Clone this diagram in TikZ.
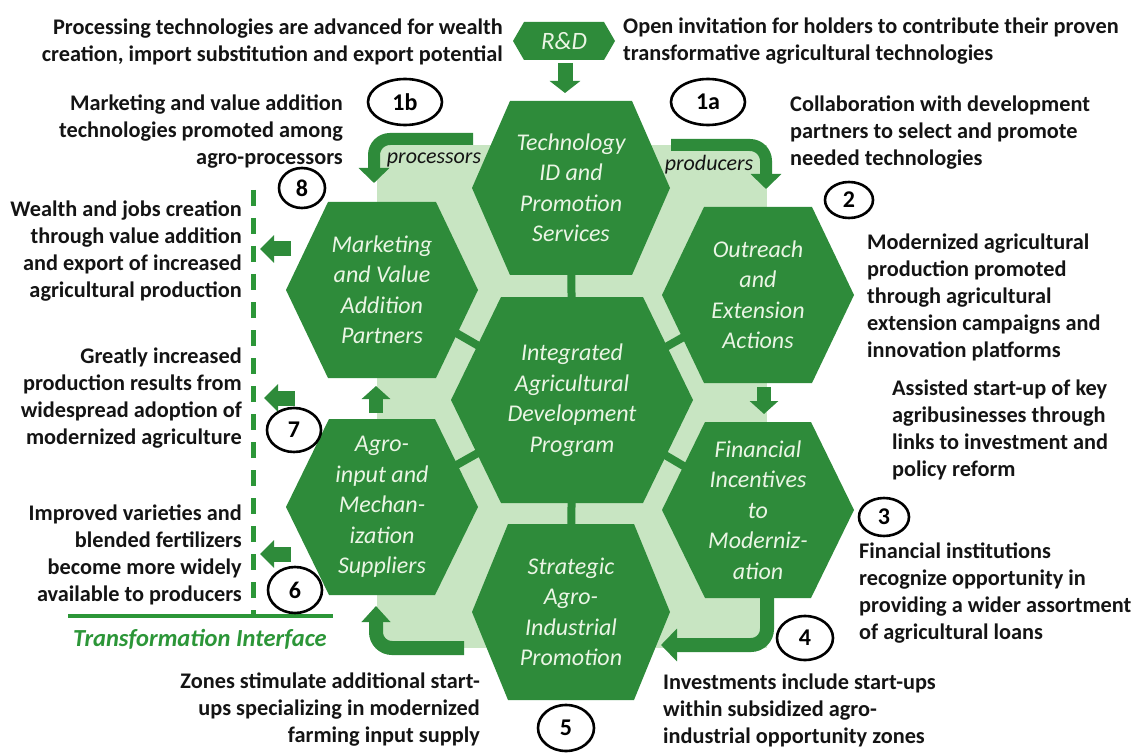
\documentclass[tikz,border=0pt]{standalone}
\usepackage{fontspec}
\setmainfont{Carlito}
\usetikzlibrary{arrows.meta,shapes.geometric}
\definecolor{hexgreen}{RGB}{46,139,58}
\definecolor{palegreen}{RGB}{200,229,194}
\definecolor{hextext}{RGB}{234,245,228}
\definecolor{ifgreen}{RGB}{44,150,56}
\definecolor{ink}{RGB}{20,20,20}
\newcommand\hexshape[6]{%
  \fill[hexgreen] (#2-#4,#3) -- (#2-#5,#3-#6) -- (#2+#5,#3-#6) -- (#2+#4,#3) -- (#2+#5,#3+#6) -- (#2-#5,#3+#6) -- cycle;
  \coordinate (#1) at (#2,#3);}
\tikzset{
  hextxt/.style={align=center, text=hextext, inner sep=0pt, font=\fontsize{24}{30.5}\selectfont\itshape},
  bodytxt/.style={inner sep=0pt, text=ink, font=\fontsize{22.3}{27}\selectfont\bfseries},
  lbltxt/.style={inner sep=0pt, text=ink, font=\fontsize{22}{27}\selectfont\itshape},
  numcirc/.style={ellipse, draw=black, line width=2.6pt, inner sep=0pt, font=\fontsize{24}{28}\selectfont\bfseries},
  spoke/.style={hexgreen, line width=8pt},
  blockarrow/.style={hexgreen, line width=14pt, -{Triangle[width=28pt,length=13pt]}},
  curvearrow/.style={hexgreen, line width=14pt, rounded corners=16pt, -{Triangle[width=32pt,length=15pt]}},
  leftarrow/.style={hexgreen, line width=15pt, -{Triangle[width=27pt,length=14pt]}},
}
\begin{document}
\begin{tikzpicture}[x=1pt,y=-1pt]
\useasboundingbox (0,0) rectangle (1133,754);
\fill[white] (0,0) rectangle (1133,754);
% pale band behind the hexagons
\fill[palegreen] (377,145) rectangle (767,648);
% hexagons
\hexshape{rd}{564}{41}{51}{40}{19}
\hexshape{tech}{571}{188}{99}{61}{87}
\hexshape{mark}{382}{290}{96}{54}{88}
\hexshape{outr}{758}{295}{96}{54}{88}
\hexshape{integ}{572}{400}{121}{71}{103}
\hexshape{agro}{382}{507}{96}{53}{88}
\hexshape{strat}{571}{612}{99}{63}{88}
\hexshape{fin}{758}{510}{96}{53}{88}
% spokes
\draw[spoke] (integ) -- (tech);
\draw[spoke] (integ) -- (mark);
\draw[spoke] (integ) -- (outr);
\draw[spoke] (integ) -- (agro);
\draw[spoke] (integ) -- (strat);
\draw[spoke] (integ) -- (fin);
% hexagon texts
\node[hextxt, font=\fontsize{25}{30}\selectfont\itshape] (rdt) at (rd) {R\&D};
\node[hextxt] (techt) at (tech) {Technology\\ID and\\Promotion\\Services};
\node[hextxt] (markt) at (mark) {Marketing\\and Value\\Addition\\Partners};
\node[hextxt] (outrt) at (outr) {Outreach\\and\\Extension\\Actions};
\node[hextxt] (integt) at (integ) {Integrated\\Agricultural\\Development\\Program};
\node[hextxt] (agrot) at (agro) {Agro-\\input and\\Mechan-\\ization\\Suppliers};
\node[hextxt] (stratt) at (strat) {Strategic\\Agro-\\Industrial\\Promotion};
\node[hextxt] (fint) at (fin) {Financial\\Incentives\\to\\Moderniz-\\ation};
% arrow end points
\coordinate (rdA) at (565,63);
\coordinate (rdB) at (565,93);
\coordinate (upA) at (376,413);
\coordinate (upB) at (376,386);
\coordinate (dnA) at (764,387);
\coordinate (dnB) at (764,414);
\coordinate (pA) at (473,139);
\coordinate (pB) at (374,139);
\coordinate (pC) at (374,183);
\coordinate (qA) at (671,145);
\coordinate (qB) at (766,145);
\coordinate (qC) at (766,189);
\coordinate (fA) at (767,597);
\coordinate (fB) at (767,645);
\coordinate (fC) at (661,645);
\coordinate (sA) at (464,648);
\coordinate (sB) at (376,648);
\coordinate (sC) at (376,606);
\coordinate (l8A) at (291,249);
\coordinate (l8B) at (260,249);
\coordinate (l7A) at (295,398);
\coordinate (l7B) at (264,398);
\coordinate (l6A) at (291,554);
\coordinate (l6B) at (260,554);
% block arrows
\draw[blockarrow, line width=15pt, -{Triangle[width=30pt,length=12pt]}] (rdA) -- (rdB);
\draw[blockarrow] (upA) -- (upB);
\draw[blockarrow] (dnA) -- (dnB);
\draw[curvearrow, line width=12pt, -{Triangle[width=30pt,length=15pt]}] (pA) -- (pB) -- (pC);
\draw[curvearrow, line width=12pt, -{Triangle[width=30pt,length=15pt]}] (qA) -- (qB) -- (qC);
\draw[curvearrow, -{Triangle[width=32pt,length=16pt]}] (fA) -- (fB) -- (fC);
\draw[curvearrow, -{Triangle[width=28pt,length=16pt]}] (sA) -- (sB) -- (sC);
\draw[leftarrow] (l8A) -- (l8B);
\draw[leftarrow] (l7A) -- (l7B);
\draw[leftarrow] (l6A) -- (l6B);
% arrow labels
\node[lbltxt] (proclbl) at (434,160) {processors};
\node[lbltxt] (prodlbl) at (709,165) {producers};
% transformation interface
\coordinate (dTop) at (253,190);
\coordinate (dBot) at (253,614);
\draw[ifgreen, line width=5pt, dash pattern=on 16pt off 12pt] (dTop) -- (dBot);
\coordinate (iL) at (68,616);
\coordinate (iR) at (333,616);
\draw[ifgreen, line width=4pt] (iL) -- (iR);
\node[inner sep=0pt, text=ifgreen, font=\fontsize{24.5}{28}\selectfont\bfseries\itshape] (tif) at (200,639) {Transformation Interface};
% numbered ellipses
\node[numcirc, minimum width=74pt, minimum height=46pt] (n1b) at (405,102) {1b};
\node[numcirc, minimum width=74pt, minimum height=46pt] (n1a) at (708,102) {1a};
\node[numcirc, minimum width=46pt, minimum height=40pt] (n8) at (302,188) {8};
\node[numcirc, minimum width=48pt, minimum height=36pt] (n2) at (849,200) {2};
\node[numcirc, minimum width=54pt, minimum height=44pt] (n7) at (294,430) {7};
\node[numcirc, minimum width=54pt, minimum height=46pt] (n6) at (295,590) {6};
\node[numcirc, minimum width=50pt, minimum height=38pt] (n3) at (884,517) {3};
\node[numcirc, minimum width=56pt, minimum height=44pt] (n4) at (805,638) {4};
\node[numcirc, minimum width=56pt, minimum height=46pt] (n5) at (566,728) {5};
% description texts
\node[bodytxt, anchor=east, align=right] (t1) at (503,41.5) {Processing technologies are advanced for wealth\\creation, import substitution and export potential};
\node[bodytxt, anchor=west, align=left] (t2) at (623,41.5) {Open invitation for holders to contribute their proven\\transformative agricultural technologies};
\node[bodytxt, anchor=east, align=right] (t3) at (343,132) {Marketing and value addition\\technologies promoted among\\agro-processors};
\node[bodytxt, anchor=west, align=left] (t4) at (790,133) {Collaboration with development\\partners to select and promote\\needed technologies};
\node[bodytxt, anchor=east, align=right] (t5) at (242,251) {Wealth and jobs creation\\through value addition\\and export of increased\\agricultural production};
\node[bodytxt, anchor=east, align=right] (t6) at (242,398) {Greatly increased\\production results from\\widespread adoption of\\modernized agriculture};
\node[bodytxt, anchor=east, align=right] (t7) at (242,555) {Improved varieties and\\blended fertilizers\\become more widely\\available to producers};
\node[bodytxt, anchor=west, align=left] (t8) at (867,297) {Modernized agricultural\\production promoted\\through agricultural\\extension campaigns and\\innovation platforms};
\node[bodytxt, anchor=west, align=left] (t9) at (892,430) {Assisted start-up of key\\agribusinesses through\\links to investment and\\policy reform};
\node[bodytxt, anchor=west, align=left] (t10) at (859,593) {Financial institutions\\recognize opportunity in\\providing a wider assortment\\of agricultural loans};
\node[bodytxt, anchor=west, align=left] (t11) at (663,710) {Investments include start-ups\\within subsidized agro-\\industrial opportunity zones};
\node[bodytxt, anchor=east, align=right] (t12) at (480,710) {Zones stimulate additional start-\\ups specializing in modernized\\farming input supply};
\end{tikzpicture}
\end{document}
